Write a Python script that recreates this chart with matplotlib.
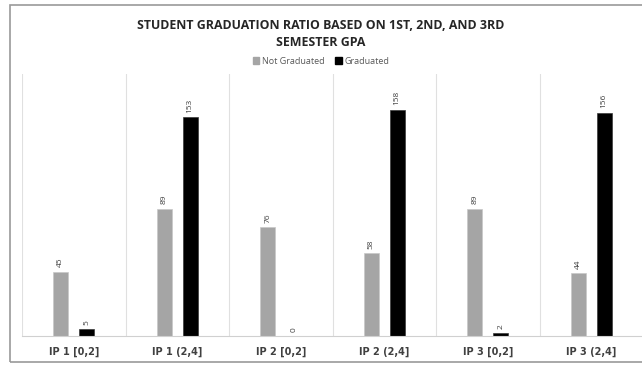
import numpy as np
import matplotlib.pyplot as plt
from matplotlib.patches import Rectangle, Patch

categories = ["IP 1 [0,2]", "IP 1 (2,4]", "IP 2 [0,2]",
              "IP 2 (2,4]", "IP 3 [0,2]", "IP 3 (2,4]"]
not_graduated = [45, 89, 76, 58, 89, 44]
graduated = [5, 153, 0, 158, 2, 156]

plt.rcParams['font.family'] = ['Open Sans', 'DejaVu Sans']

fig = plt.figure(figsize=(6.42, 3.65), dpi=100)
fig.patch.set_facecolor("white")
fig.patches.append(Rectangle((10 / 642, 3 / 365), 640 / 642, 357 / 365,
                             transform=fig.transFigure, fill=False,
                             edgecolor="#9a9a9a", linewidth=1.2))

ax = fig.add_axes([22 / 642, 29 / 365, 621 / 642, 262 / 365])
x = np.arange(len(categories))
w = 0.145
off = 0.125

b1 = ax.bar(x - off, not_graduated, w, color="#a5a5a5",
            edgecolor="#c8c8c8", linewidth=0.5, label="Not Graduated")
b2 = ax.bar(x + off, graduated, w, color="#000000",
            edgecolor="#3a3a3a", linewidth=0.5, label="Graduated")

for bars, vals in ((b1, not_graduated), (b2, graduated)):
    for r, v in zip(bars, vals):
        ax.text(r.get_x() + r.get_width() / 2, v + 3, str(v),
                rotation=90, ha="center", va="bottom",
                fontsize=6, color="#404040")

for b in np.arange(-0.5, len(categories), 1.0):
    ax.axvline(b, color="#e0e0e0", linewidth=0.8, zorder=0)

ax.set_xlim(-0.5, len(categories) - 0.5)
ax.set_ylim(0, 183)
ax.set_yticks([])
ax.set_xticks(x)
ax.set_xticklabels(categories, fontsize=7, fontweight="bold", color="#404040",
                   family="DejaVu Sans")
ax.tick_params(axis="x", length=0, pad=8)
for s in ("top", "right", "left"):
    ax.spines[s].set_visible(False)
ax.spines["bottom"].set_color("#d0d0d0")

fig.text(0.5, 331 / 365, "STUDENT GRADUATION RATIO BASED ON 1ST, 2ND, AND 3RD\nSEMESTER GPA",
         ha="center", va="center", fontsize=8.9, fontweight="bold",
         color="#262626", linespacing=1.35)

handles = [Patch(color="#a5a5a5", label="Not Graduated"),
           Patch(color="#000000", label="Graduated")]
fig.legend(handles=handles, loc="center", bbox_to_anchor=(0.5, 304 / 365),
           ncol=2, frameon=False, fontsize=6.5, handlelength=0.7,
           handleheight=0.7, handletextpad=0.3, columnspacing=1.2,
           labelcolor="#595959")

fig.savefig("out.png", dpi=100)
